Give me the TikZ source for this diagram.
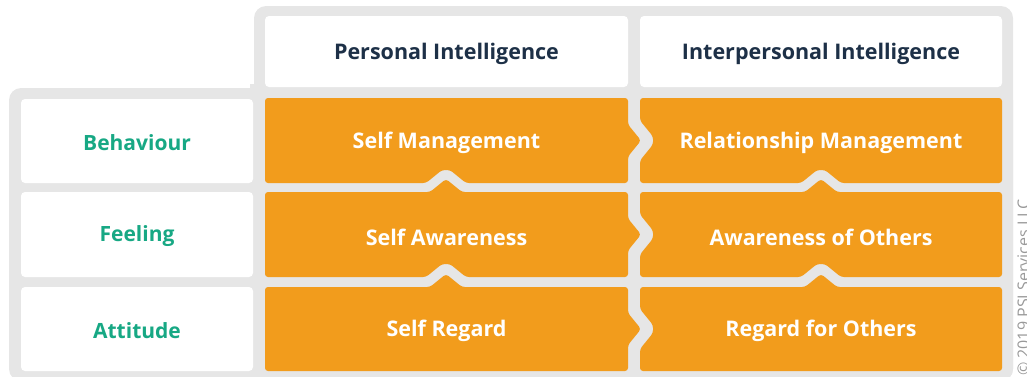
\documentclass[tikz,border=0pt]{standalone}
\usepackage{fontspec}
\setmainfont{Open Sans}
\usepackage{tikz}

\definecolor{framegray}{HTML}{E6E6E6}
\definecolor{puzzleorange}{HTML}{F29C1C}
\definecolor{labelgreen}{HTML}{17A884}
\definecolor{headnavy}{HTML}{1D3047}

\begin{document}
\begin{tikzpicture}[x=1pt,y=-1pt,
  framepart/.style={fill=framegray,rounded corners=12pt},
  whitecell/.style={fill=white,rounded corners=4pt},
  piece/.style={fill=puzzleorange,rounded corners=3pt},
  headtext/.style={text=headnavy,font=\fontsize{21.5}{24}\selectfont\bfseries},
  rowtext/.style={text=labelgreen,font=\fontsize{21}{24}\selectfont\bfseries},
  piecetext/.style={text=white,font=\fontsize{21.5}{24}\selectfont\bfseries}]
\useasboundingbox (0,0) rectangle (1027,376);
% frame
\fill[framepart] (254,6) rectangle (1013,381);
\fill[framepart] (9,88) rectangle (1013,381);
\fill[framegray] (250,84) rectangle (258,92);
\fill[whitecell] (265,16) rectangle (628,87);
\fill[whitecell] (640,16) rectangle (1002,87);
\fill[whitecell] (21,99) rectangle (253,183);
\fill[whitecell] (21,192) rectangle (253,277);
\fill[whitecell] (21,287) rectangle (253,371);
% personal column
\fill[piece] (265,98) -- (628,98) -- (628,124.5) -- ++(13,16) -- ++(-13,16) -- (628,183) -- (466,183) -- ++(-16,-13) -- ++(-8,0) -- ++(-16,13) -- (265,183) -- cycle;
\fill[piece] (265,192) -- (430,192) -- ++(16,-13) -- ++(16,13) -- (628,192) -- (628,218.5) -- ++(13,16) -- ++(-13,16) -- (628,277) -- (466,277) -- ++(-16,-13) -- ++(-8,0) -- ++(-16,13) -- (265,277) -- cycle;
\fill[piece] (265,287) -- (430,287) -- ++(16,-13) -- ++(16,13) -- (628,287) -- (628,313) -- ++(13,16) -- ++(-13,16) -- (628,371) -- (265,371) -- cycle;
% interpersonal column
\fill[piece] (640,98) -- (1002,98) -- (1002,183) -- (841,183) -- ++(-16,-13) -- ++(-8,0) -- ++(-16,13) -- (640,183) -- (640,160.5) -- ++(13,-16) -- ++(0,-8) -- ++(-13,-16) -- cycle;
\fill[piece] (640,192) -- (805,192) -- ++(16,-13) -- ++(16,13) -- (1002,192) -- (1002,277) -- (841,277) -- ++(-16,-13) -- ++(-8,0) -- ++(-16,13) -- (640,277) -- (640,254.5) -- ++(13,-16) -- ++(0,-8) -- ++(-13,-16) -- cycle;
\fill[piece] (640,287) -- (805,287) -- ++(16,-13) -- ++(16,13) -- (1002,287) -- (1002,371) -- (640,371) -- (640,349) -- ++(13,-16) -- ++(0,-8) -- ++(-13,-16) -- cycle;
% texts
\node[headtext] (personal) at (446.5,53.5) {Personal Intelligence};
\node[headtext] (interpersonal) at (821,53.5) {Interpersonal Intelligence};
\node[rowtext] (behaviour) at (137,142.5) {Behaviour};
\node[rowtext] (feeling) at (137,236) {Feeling};
\node[rowtext] (attitude) at (137,330.5) {Attitude};
\node[piecetext] (selfman) at (446.5,143) {Self Management};
\node[piecetext] (relman) at (821,143) {Relationship Management};
\node[piecetext] (selfaware) at (446.5,237) {Self Awareness};
\node[piecetext] (otheraware) at (821,237) {Awareness of Others};
\node[piecetext] (selfregard) at (446.5,331) {Self Regard};
\node[piecetext] (otherregard) at (821,331) {Regard for Others};
\node[rotate=90,anchor=base west,text=black!40,font=\fontsize{16}{18}\selectfont,inner sep=0pt] (copyright) at (1029,376) {© 2019 PSI Services LLC};
\end{tikzpicture}
\end{document}
